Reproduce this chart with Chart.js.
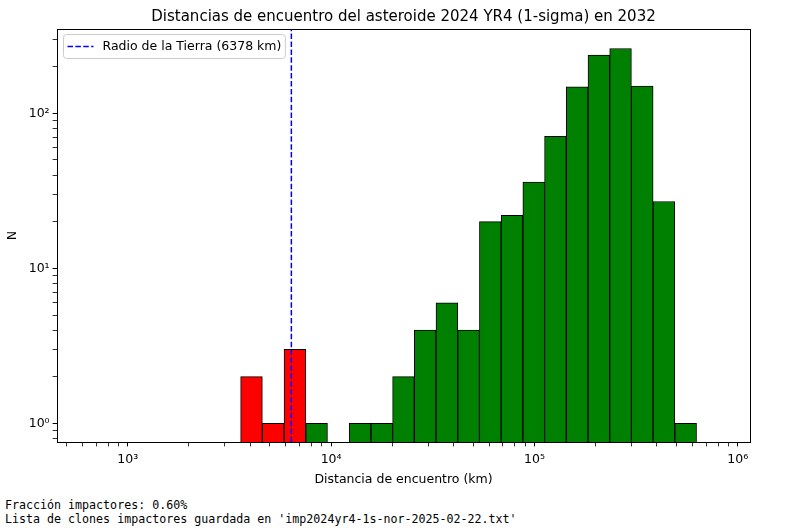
<!DOCTYPE html>
<html>
<head>
<meta charset="utf-8">
<script src="https://cdn.jsdelivr.net/npm/chart.js@4"></script>
<style>
  body { margin: 0; background: #fff; }
  #wrap { position: relative; width: 788px; height: 530px; }
  #notes { position: absolute; left: 5px; top: 498px; margin: 0;
           font: 11.65px/14px "DejaVu Sans Mono", monospace; color: #000; }
</style>
</head>
<body>
<div id="wrap">
  <canvas id="hist" width="788" height="490"></canvas>
  <pre id="notes">Fracción impactores: 0.60%
Lista de clones impactores guardada en 'imp2024yr4-1s-nor-2025-02-22.txt'</pre>
</div>
<script>
// centros de los bins (km), escala log
const binCenters = [4061, 5193, 6641, 8489, 10854, 13881, 17750, 22694, 29013, 37100, 47441,
                    60659, 77568, 99170, 126820, 162150, 207340, 265100, 338970, 433440, 554200];
const impactorCounts = [2, 1, 3, null, null, null, null, null, null, null, null,
                        null, null, null, null, null, null, null, null, null, null];
const otherCounts = [null, null, null, 1, null, 1, 1, 2, 4, 6, 4,
                     20, 22, 36, 71, 148, 238, 262, 150, 27, 1];
const earthRadius = 6378;
const earthLabel = "Radio de la Tierra (6378 km)";

const xMin = 449, xMax = 1.148e6;
const yMin = 0.758, yMax = 350;
const xMajor = [1e3, 1e4, 1e5, 1e6];
const xMajorLabels = ["10³", "10⁴", "10⁵", "10⁶"];
const yMajor = [1, 10, 100];
const yMajorLabels = ["10⁰", "10¹", "10²"];

Chart.defaults.font.family = '"DejaVu Sans", sans-serif';
Chart.defaults.color = "#000";

function logTicks(min, max, majors) {
    var out = [];
    for (var e = Math.floor(Math.log10(min)); e <= Math.ceil(Math.log10(max)); e++) {
        for (var m = 1; m <= 9; m++) {
            var v = m * Math.pow(10, e);
            if (v >= min && v <= max) out.push({ value: v, major: majors.indexOf(v) >= 0 });
        }
    }
    return out;
}

// un solo dataset: rojo = impactores, verde = resto
var counts = [], colors = [];
binCenters.forEach(function(x, i) {
    if (impactorCounts[i] != null) { counts.push({ x: x, y: impactorCounts[i] }); colors.push("#ff0000"); }
    else { counts.push({ x: x, y: otherCounts[i] }); colors.push("#008000"); }
});

const frame = {
    id: "frame",
    afterDatasetsDraw(chart) {
        const a = chart.chartArea, ctx = chart.ctx;
        ctx.save();
        ctx.strokeStyle = "#000";
        ctx.lineWidth = 1;
        ctx.strokeRect(Math.round(a.left) + 0.5, Math.round(a.top) + 0.5,
                       Math.round(a.right - a.left), Math.round(a.bottom - a.top));
        // leyenda
        ctx.font = '12.5px "DejaVu Sans"';
        const tw = ctx.measureText(earthLabel).width;
        const x = Math.round(a.left) + 6.5, y = Math.round(a.top) + 5.5, w = tw + 43, h = 24;
        ctx.beginPath();
        ctx.roundRect(x, y, w, h, 3);
        ctx.fillStyle = "rgba(255,255,255,0.8)";
        ctx.fill();
        ctx.strokeStyle = "#cccccc";
        ctx.stroke();
        ctx.beginPath();
        ctx.setLineDash([5.5, 2.4]);
        ctx.strokeStyle = "#0000ff";
        ctx.lineWidth = 1.5;
        ctx.moveTo(x + 4, y + h / 2);
        ctx.lineTo(x + 30, y + h / 2);
        ctx.stroke();
        ctx.setLineDash([]);
        ctx.fillStyle = "#000";
        ctx.textBaseline = "middle";
        ctx.fillText(earthLabel, x + 39, y + h / 2 + 0.5);
        ctx.restore();
    }
};

const tickW = function(c) { return c.tick && c.tick.major ? 1 : 0.8; };

new Chart(document.getElementById("hist"), {
    type: "bar",
    data: {
        datasets: [
            { type: "line", label: earthLabel, order: 0,
              data: [{ x: earthRadius, y: yMin }, { x: earthRadius, y: yMax }],
              borderColor: "#0000ff", borderWidth: 1.5, borderDash: [5.5, 2.4],
              pointRadius: 0, fill: false },
            { type: "bar", label: "N", order: 1, data: counts,
              backgroundColor: colors, borderColor: "#000", borderWidth: 1,
              barThickness: "flex", categoryPercentage: 1, barPercentage: 1 }
        ]
    },
    options: {
        responsive: false,
        animation: false,
        layout: { padding: { left: 0, right: 38, top: 0, bottom: 0 } },
        plugins: {
            legend: { display: false },
            tooltip: { enabled: false },
            title: { display: true, fullSize: false,
                     text: "Distancias de encuentro del asteroide 2024 YR4 (1-sigma) en 2032",
                     font: { size: 15, weight: "normal" }, color: "#000", padding: { top: 8, bottom: 3 } }
        },
        scales: {
            x: {
                type: "logarithmic", position: "bottom", min: xMin, max: xMax, offset: false,
                grid: { display: true, drawOnChartArea: false, drawTicks: true, offset: false,
                        tickLength: 4.4, tickColor: "#000", tickWidth: tickW },
                border: { display: true, color: "#000", width: 1 },
                afterBuildTicks: function(s) { s.ticks = logTicks(xMin, xMax, xMajor); },
                afterFit: function(s) { s.height = 48; },
                ticks: { autoSkip: false, maxRotation: 0, padding: 6, font: { size: 12.5 },
                         callback: function(v) { var k = xMajor.indexOf(v); return k >= 0 ? xMajorLabels[k] : ""; } },
                title: { display: true, text: "Distancia de encuentro (km)", font: { size: 12.5 }, padding: { top: 2, bottom: 3 } }
            },
            y: {
                type: "logarithmic", min: yMin, max: yMax,
                grid: { display: true, drawOnChartArea: false, drawTicks: true,
                        tickLength: 4.4, tickColor: "#000", tickWidth: tickW },
                border: { display: true, color: "#000", width: 1 },
                afterBuildTicks: function(s) { s.ticks = logTicks(yMin, yMax, yMajor); },
                afterFit: function(s) { s.width = 57; },
                ticks: { autoSkip: false, padding: 3, font: { size: 12.5 },
                         callback: function(v) { var k = yMajor.indexOf(v); return k >= 0 ? yMajorLabels[k] : ""; } },
                title: { display: true, text: "N", font: { size: 12.5 }, padding: { top: 5, bottom: 0 } }
            }
        }
    },
    plugins: [frame]
});
</script>
</body>
</html>
